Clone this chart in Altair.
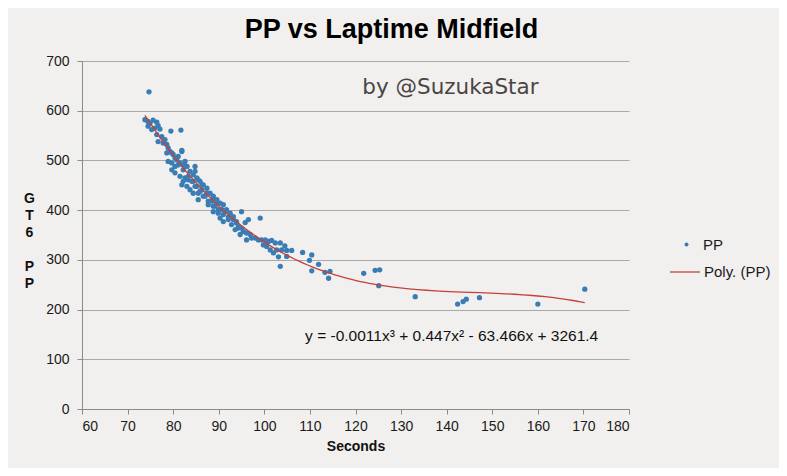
import altair as alt
import pandas as pd

# ---- data ----
seconds = [
    74.7,
    73.8, 74.4, 74.9, 75.6, 76.4, 76.7, 76.0, 75.3, 74.5, 77.1, 79.5, 81.7, 76.4, 77.5, 78.2,
    76.7, 77.8, 78.6, 78.9, 79.3, 81.9, 78.6, 80.0, 78.9, 79.7, 80.8, 81.1, 82.2, 83.0, 79.7,
    80.4, 83.7, 84.8, 84.4, 81.5, 82.6, 83.3, 84.4, 85.5, 81.9, 83.0, 85.2, 86.3, 83.7,
    79.7, 80.4, 81.1, 81.9, 82.6, 81.5, 80.4, 83.0, 84.8, 82.2, 83.3, 85.2, 82.2, 84.1, 85.9,
    86.6, 84.8, 86.3, 87.4, 88.1, 85.5, 87.0, 88.8, 89.6, 87.7, 90.3, 91.0, 88.8, 89.9, 91.7,
    92.5, 91.0, 93.2, 92.1, 93.9, 92.8, 94.3, 91.0, 90.3,
    84.4, 85.9, 86.6, 87.4, 85.5, 88.5, 88.8, 89.6, 87.7, 89.2, 90.7, 88.8, 89.9, 91.4, 92.1,
    93.2, 93.9, 94.3,
    95.0, 95.4, 96.1, 96.9, 94.7, 97.2, 98.0, 98.7, 96.1, 95.0, 96.5, 95.8, 93.6,
    99.1, 99.4, 100.2, 100.9, 101.6, 99.8, 100.5, 102.4, 103.5, 104.5, 101.3, 102.7, 103.8,
    104.9, 106.0, 102.0, 103.1, 104.9, 103.5, 108.4, 110.4, 109.9, 111.9, 110.4, 113.3, 114.4,
    114.1, 121.8, 124.3, 125.3, 125.1,
    133.1, 142.4, 143.6, 144.3, 147.2, 160.0, 170.3,
]
pp = [
    638,
    582, 579, 575, 581, 577, 570, 565, 562, 569, 563, 559, 561, 552, 548, 542,
    538, 535, 532, 525, 518, 520, 515, 512, 498, 495, 501, 491, 491, 488, 481,
    475, 478, 478, 471, 468, 465, 461, 458, 461, 451, 448, 448, 451, 441,
    515, 505, 508, 518, 498, 495, 488, 488, 488, 481, 468, 465, 458, 458, 458,
    451, 448, 441, 444, 434, 434, 428, 424, 421, 418, 414, 411, 408, 401, 401,
    394, 391, 387, 381, 377, 371, 364, 377, 384,
    434, 438, 428, 434, 421, 418, 428, 414, 411, 408, 401, 397, 394, 397, 386,
    381, 374, 367,
    364, 357, 354, 351, 351, 344, 344, 340, 340, 397, 381, 375, 361,
    384, 340, 340, 337, 339, 330, 327, 334, 334, 328, 320, 320, 320,
    319, 319, 314, 306, 307, 287, 315, 310, 299, 291, 278, 275, 277,
    263, 273, 279, 280, 248,
    226, 211, 216, 221, 224, 211, 241,
]

x_ticks = list(range(60, 181, 10))
y_ticks = list(range(0, 701, 100))

chart_title = "PP vs Laptime Midfield"
x_title = "Seconds"
y_title = ["G", "T", "6", "\u2800", "P", "P"]
series_points = "PP"
series_trend = "Poly. (PP)"

credit_text = ["by @SuzukaStar"]
credit_sec = [121.5]
credit_pp = [646]

eq_text = ["y = -0.0011x\u00b3 + 0.447x\u00b2 - 63.466x + 3261.4"]
eq_sec = [141.1]
eq_pp = [146]

BLUE = "#3a7db5"
RED = "#c4413c"
FONT = "Liberation Sans"
W, H = 547, 348

points = pd.DataFrame({"Seconds": seconds, "PP": pp, "series": series_points})
credit = pd.DataFrame({"Seconds": credit_sec, "PP": credit_pp, "label": credit_text})
equation = pd.DataFrame({"Seconds": eq_sec, "PP": eq_pp, "label": eq_text})

x_enc = alt.X(
    "Seconds:Q",
    scale=alt.Scale(domain=[60, 180], nice=False, zero=False),
    axis=alt.Axis(
        values=x_ticks, title=x_title, grid=False, tickSize=5, labelPadding=5,
        titlePadding=6, titleFontSize=14, titleFontWeight="bold", titleFont=FONT,
        titleColor="#111111",
    ),
)
y_enc = alt.Y(
    "PP:Q",
    scale=alt.Scale(domain=[0, 700], nice=False),
    axis=alt.Axis(
        values=y_ticks, title=y_title, grid=True, tickSize=5, labelPadding=8,
        titleAngle=0, titleAlign="center", titleBaseline="top", titleX=-53, titleY=130,
        titleLineHeight=17, titleFontSize=14, titleFontWeight="bold", titleFont=FONT,
        titleColor="#111111",
    ),
)

scatter = alt.Chart(points).mark_circle(size=28, opacity=1).encode(
    x=x_enc,
    y=y_enc,
    color=alt.Color(
        "series:N",
        scale=alt.Scale(domain=[series_points], range=[BLUE]),
        legend=alt.Legend(
            title=None, orient="none", legendX=597, legendY=176, padding=0,
            symbolType="circle", symbolSize=16, labelOffset=9,
            labelFontSize=15, labelFont=FONT, labelColor="#1a1a1a",
        ),
    ),
)

trend = (
    alt.Chart(points)
    .transform_regression("Seconds", "PP", method="poly", order=3)
    .transform_calculate(series="'" + series_trend + "'")
    .mark_line(strokeWidth=1.3)
    .encode(
        x=x_enc,
        y=y_enc,
        color=alt.Color(
            "series:N",
            scale=alt.Scale(domain=[series_trend], range=[RED]),
            legend=alt.Legend(
                title=None, orient="none", legendX=587, legendY=195, padding=0,
                symbolType="stroke", symbolSize=900, symbolStrokeWidth=1.3, labelOffset=3,
                labelFontSize=15, labelFont=FONT, labelColor="#1a1a1a",
            ),
        ),
    )
)

credit_layer = alt.Chart(credit).mark_text(
    align="left", baseline="middle", fontSize=21.5, font="DejaVu Sans", color="#4b4444"
).encode(x=x_enc, y=y_enc, text="label:N")

eq_layer = alt.Chart(equation).mark_text(
    align="center", baseline="middle", fontSize=15.5, font=FONT, color="#111111"
).encode(x=x_enc, y=y_enc, text="label:N")

chart = (
    alt.layer(scatter, trend, credit_layer, eq_layer)
    .resolve_scale(color="independent")
    .properties(
        width=W,
        height=H,
        title=alt.TitleParams(
            chart_title, fontSize=27, font=FONT, fontWeight="bold", anchor="middle",
            frame="group", dx=36, offset=-11, baseline="alphabetic", color="#000000",
        ),
        autosize=alt.AutoSizeParams(type="none"),
        padding={"left": 74, "top": 53, "right": 150, "bottom": 59},
        background="#f1f0ee",
    )
    .configure_view(strokeOpacity=0)
    .configure_axis(
        labelFont=FONT, labelFontSize=14, labelColor="#1a1a1a",
        domainColor="#8a8a8a", tickColor="#8a8a8a", gridColor="#a9a9a9",
        gridOpacity=1, domainWidth=1, tickWidth=1, gridWidth=1,
    )
)

chart.save("out.html", embed_options={"renderer": "svg", "actions": False})
